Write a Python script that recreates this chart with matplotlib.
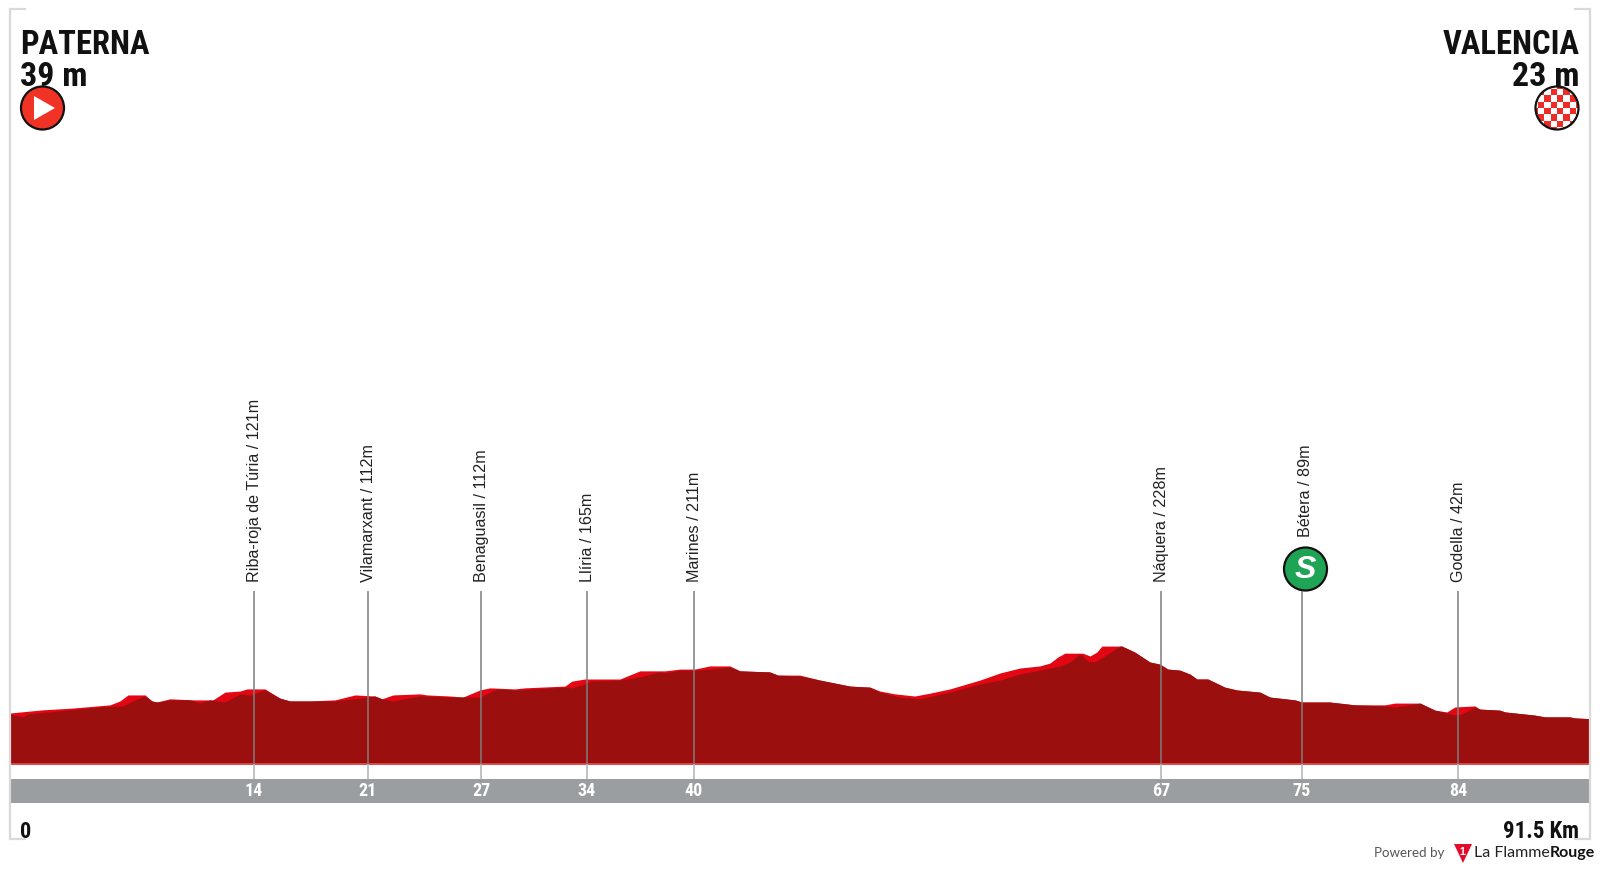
from matplotlib import pyplot as plt
from matplotlib import transforms
from matplotlib.patches import Circle, Polygon, Rectangle

# profile: km, metres
top_km = [0, 1.91, 3.65, 5.79, 6.37, 6.83, 7.82, 8.22, 8.51, 9.26, 10.71, 11.75, 12.45, 13.32, 13.72, 14.77,
          15.63, 16.21, 17.37, 18.82, 19.98, 21.13, 21.54, 22.18, 23.74, 24.15, 25.48, 26.23, 27.21, 27.79,
          29.24, 29.82, 32.14, 32.54, 33.29, 35.32, 36.48, 37.93, 38.8, 39.66, 40.53, 41.69, 42.27, 44.0,
          44.47, 45.74, 46.9, 48.64, 49.8, 50.38, 51.25, 52.4, 53.27, 54.43, 56.17, 57.33, 58.48, 59.64,
          60.22, 60.68, 61.09, 62.13, 62.54, 62.94, 63.23, 64.39, 65.14, 66.01, 66.59, 67.05, 67.75, 68.33,
          68.73, 69.37, 70.35, 71.05, 72.38, 72.96, 74.41, 74.81, 76.43, 77.88, 79.62, 80.2, 81.65, 82.52,
          83.21, 83.68, 84.83, 85.12, 86.28, 86.57, 88.31, 88.88, 90.33, 90.62, 91.5]
top_m = [39, 48, 53, 62, 73, 90, 90, 73, 70, 79, 76, 76, 98, 101, 107, 107,
         81, 73, 73, 76, 90, 87, 79, 90, 93, 90, 87, 84, 104, 110,
         107, 110, 115, 129, 135, 135, 158, 158, 163, 163, 172, 172, 158, 155,
         146, 146, 132, 115, 112, 101, 93, 87, 95, 107, 132, 152, 166, 172,
         180, 197, 208, 208, 200, 211, 228, 228, 211, 183, 177, 163, 160, 149,
         135, 135, 112, 104, 98, 84, 76, 70, 70, 62, 62, 67, 67, 47,
         42, 56, 59, 50, 47, 42, 33, 28, 28, 25, 23]

low_km = [0, 0.75, 0.98, 5.21, 6.54, 7.24, 7.82, 8.22, 8.51, 9.26, 10.42, 11.0, 11.58, 12.45, 13.32, 13.9,
          14.77, 15.63, 16.21, 18.82, 20.27, 21.13, 21.54, 22.18, 23.74, 25.48, 27.21, 28.2, 29.24, 32.14,
          32.54, 33.29, 33.58, 35.32, 36.48, 37.35, 37.64, 37.93, 38.8, 39.66, 40.53, 41.69, 42.27, 44.0,
          44.47, 45.74, 46.9, 48.64, 49.8, 50.38, 51.53, 52.69, 54.43, 56.17, 57.33, 58.48, 59.64, 60.8,
          61.38, 61.96, 62.42, 62.83, 63.4, 64.27, 64.39, 65.14, 66.01, 66.59, 67.05, 67.75, 68.33, 68.73,
          69.37, 70.35, 71.05, 72.38, 72.96, 74.41, 74.81, 76.43, 77.88, 79.62, 80.2, 81.07, 81.65, 82.52,
          83.21, 83.68, 84.08, 84.83, 85.12, 86.28, 86.57, 88.31, 88.88, 90.33, 90.62, 91.5]
low_m = [36, 28, 36, 56, 59, 76, 87, 73, 70, 76, 76, 67, 76, 70, 93, 90,
         104, 81, 73, 73, 81, 87, 79, 73, 87, 84, 84, 107, 104, 112,
         110, 121, 129, 132, 141, 152, 155, 152, 160, 160, 163, 169, 158, 155,
         146, 144, 132, 115, 112, 98, 84, 79, 98, 121, 132, 149, 160, 172,
         183, 206, 186, 183, 200, 228, 228, 211, 183, 177, 163, 160, 149, 135,
         135, 112, 104, 98, 84, 76, 70, 70, 62, 59, 56, 62, 67, 47,
         39, 33, 36, 56, 50, 47, 42, 33, 28, 28, 25, 23]

# towns along the stage
town_km = [14.13, 20.73, 27.3, 33.41, 39.6, 66.65, 74.81, 83.85]
town_labels = ['Riba-roja de Túria / 121m', 'Vilamarxant / 112m', 'Benaguasil / 112m', 'Llíria / 165m',
               'Marines / 211m', 'Náquera / 228m', 'Bétera / 89m', 'Godella / 42m']
town_ticks = ['14', '21', '27', '34', '40', '67', '75', '84']

start_name, start_alt = 'PATERNA', '39 m'
finish_name, finish_alt = 'VALENCIA', '23 m'
total_label = '91.5 Km'

narrow = ['Roboto Condensed', 'DejaVu Sans']
plain = ['Liberation Sans', 'DejaVu Sans']
dark_red = '#9c0f0f'
bright_red = '#e30613'

fig = plt.figure(figsize=(16, 8.7), dpi=100)

# data axes fill the whole figure, km and metres
ax = fig.add_axes([0, 0, 1, 1])
ax.set_xlim(-10 / 17.268, 1590 / 17.268)
ax.set_ylim(39 + (714 - 870) * 2.825, 39 + 714 * 2.825)
ax.axis('off')
ax.fill_between(top_km, -105, top_m, color=bright_red, lw=0)
ax.fill_between(low_km, -105, low_m, color=dark_red, lw=0)
ax.plot([0, 91.5], [-105, -105], color='#e2504f', lw=1.2, solid_capstyle='butt')

# overlay in pixels for everything around the profile
ov = fig.add_axes([0, 0, 1, 1])
ov.set_xlim(0, 1600)
ov.set_ylim(870, 0)
ov.axis('off')
km_px = transforms.blended_transform_factory(ax.transData, ov.transData)

ov.add_patch(Rectangle((10, 780), 1580, 24, color='#9b9ea0', lw=0))

frame = '#d9d9d9'
ov.plot([25, 10, 10, 25], [10, 10, 840, 840], color=frame, lw=1.6, solid_joinstyle='miter')
ov.plot([1575, 1590, 1590, 1575], [10, 10, 840, 840], color=frame, lw=1.6, solid_joinstyle='miter')

for km, label, tick in zip(town_km, town_labels, town_ticks):
    ov.plot([km, km], [592, 765], color='#7d7d7d', lw=1.1, transform=km_px, solid_capstyle='butt')
    ov.plot([km, km], [765, 780], color='#b0b2b4', lw=1.1, transform=km_px, solid_capstyle='butt')
    bottom = 537 if label.startswith('Bétera') else 582
    shift = 4 if label.startswith('Bétera') else 0.5
    ov.annotate(label, (km, bottom), xycoords=km_px, xytext=(shift * 0.72, 0), textcoords='offset points',
                rotation=90, ha='center', va='bottom', fontsize=11.6, color='#222222', family=plain)
    ov.text(km, 791, tick, transform=km_px, ha='center', va='center', fontsize=13, color='white',
            family=narrow, fontweight='bold')

# headers
ink = '#111111'
ov.text(20, 44.5, start_name, ha='left', va='center', fontsize=23.5, fontweight='bold', family=narrow, color=ink)
ov.text(20, 76.5, start_alt, ha='left', va='center', fontsize=24.5, fontweight='bold', family=narrow, color=ink)
ov.text(1580, 44.5, finish_name, ha='right', va='center', fontsize=23.5, fontweight='bold', family=narrow, color=ink)
ov.text(1580, 76.5, finish_alt, ha='right', va='center', fontsize=24.5, fontweight='bold', family=narrow, color=ink)
ov.text(20, 832, '0', ha='left', va='center', fontsize=16, fontweight='bold', family=narrow, color=ink)
ov.text(1579, 832, total_label, ha='right', va='center', fontsize=16.5, fontweight='bold', family=narrow, color=ink)

# start icon
ov.add_patch(Circle((42.5, 109), 21.5, fc='#f03324', ec='#111111', lw=1.6))
ov.add_patch(Polygon([(34, 97), (55, 109), (34, 121)], fc='white', ec='none'))

# finish icon, squares cut by the circle
ring = Circle((1557, 109), 21.5, fc='white', ec='none')
ov.add_patch(ring)
cell = 6.4
for i in range(-4, 4):
    for j in range(-4, 4):
        if (i + j) % 2 == 0:
            sq = Rectangle((1557 + i * cell, 109 + j * cell), cell, cell, fc='#ee2b24', ec='none')
            ov.add_patch(sq)
            sq.set_clip_path(ring)
ov.add_patch(Circle((1557, 109), 21.5, fc='none', ec='#111111', lw=1.6))

# sprint icon
ov.add_patch(Circle((1305.5, 570), 21.5, fc='#1fa456', ec='#111111', lw=1.6))
ov.text(1305.5, 570, 'S', ha='center', va='center', fontsize=23, color='white', fontweight='bold',
        fontstyle='italic', family=plain)

# footer logo
ov.text(1444, 853, 'Powered by', ha='right', va='center', fontsize=9.6, color='#555555', family='Lato')
ov.add_patch(Polygon([(1454, 845), (1472, 845), (1463, 864)], fc='#e30b2c', ec='none'))
ov.text(1462.5, 852, '1', ha='center', va='center', fontsize=7.5, color='white', fontweight='bold', family=plain)
ov.text(1550, 853, 'La Flamme', ha='right', va='center', fontsize=11.5, color='#222222', family='Lato')
ov.text(1595, 853, 'Rouge', ha='right', va='center', fontsize=11.5, color='#111111', fontweight='bold', family='Lato')

fig.savefig('out.png', dpi=100)
